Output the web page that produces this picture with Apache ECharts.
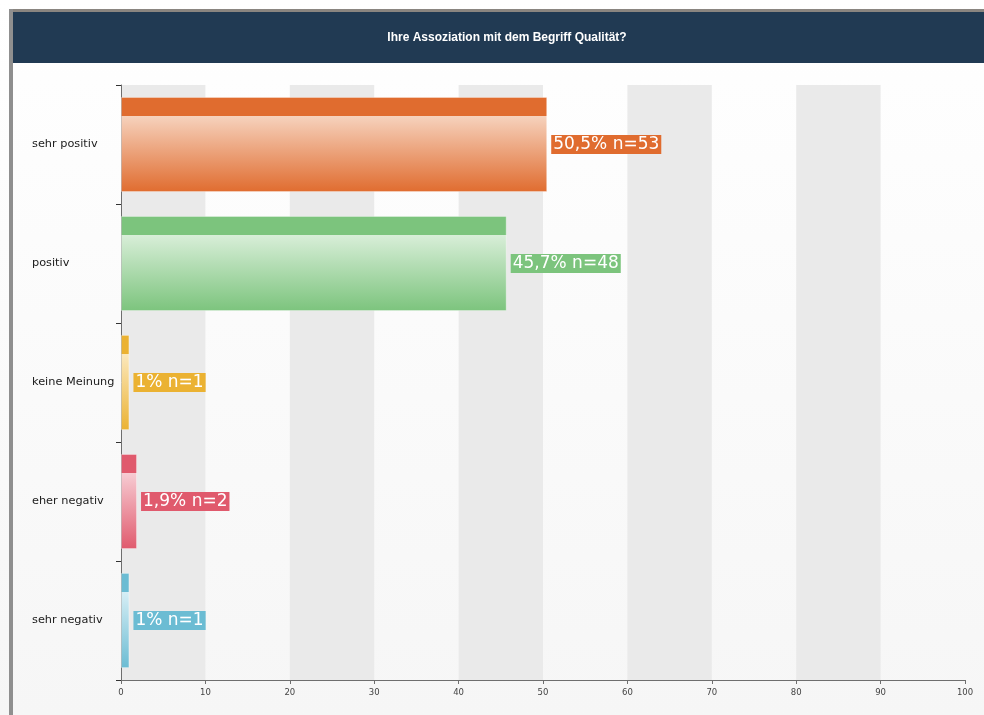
<!DOCTYPE html>
<html>
<head>
<meta charset="utf-8">
<script src="https://cdn.jsdelivr.net/npm/echarts@6/dist/echarts.min.js"></script>
<style>
  html, body { margin: 0; padding: 0; background: #ffffff; }
  #chart { width: 984px; height: 715px; }
</style>
</head>
<body>
<div id="chart"></div>
<script>
// Survey answers, top to bottom
const categories = ['sehr positiv', 'positiv', 'keine Meinung', 'eher negativ', 'sehr negativ'];
const percentValues = [50.5, 45.7, 1, 1.9, 1];
const counts = [53, 48, 1, 2, 1];
const percentLabels = ['50,5%', '45,7%', '1%', '1,9%', '1%'];
const xTicks = [0, 10, 20, 30, 40, 50, 60, 70, 80, 90, 100];

// dark / light tone per answer
const darkColors = ['#e06c2f', '#7cc47d', '#ebb232', '#e05a6d', '#6bbcd3'];
const lightColors = ['#f6d2bd', '#d8eed8', '#fbe8bd', '#f7ccd3', '#d6eef5'];

function barFill(i) {
  return new echarts.graphic.LinearGradient(0, 0, 0, 1, [
    { offset: 0, color: darkColors[i] },
    { offset: 0.2, color: darkColors[i] },
    { offset: 0.201, color: lightColors[i] },
    { offset: 1, color: darkColors[i] }
  ]);
}

const data = percentValues.map((v, i) => ({
  value: v,
  itemStyle: { color: barFill(i), borderColor: 'rgba(255,255,255,0.35)', borderWidth: 1 },
  label: { backgroundColor: darkColors[i] }
}));

const chart = echarts.init(document.getElementById('chart'), null, { renderer: 'canvas' });

chart.setOption({
  animation: false,
  backgroundColor: new echarts.graphic.LinearGradient(0, 0, 0, 1, [
    { offset: 0, color: '#ffffff' },
    { offset: 1, color: '#f6f6f6' }
  ]),
  graphic: [
    // frame edges
    { type: 'rect', shape: { x: 9, y: 9, width: 975, height: 3 }, style: { fill: '#8a8580' }, z: 10 },
    { type: 'rect', shape: { x: 9, y: 9, width: 4, height: 706 }, style: { fill: '#8f8f8f' }, z: 10 },
    // header bar
    { type: 'rect', shape: { x: 13, y: 12, width: 971, height: 51 }, style: { fill: '#213a53' }, z: 10 },
    {
      type: 'text', x: 507, y: 38, z: 11,
      style: {
        text: 'Ihre Assoziation mit dem Begriff Qualität?',
        fill: '#ffffff', font: 'bold 12px "Liberation Sans", Arial, sans-serif',
        align: 'center', verticalAlign: 'middle'
      }
    }
  ],
  grid: { left: 121, right: 19, top: 85, bottom: 35, containLabel: false },
  xAxis: {
    type: 'value', min: 0, max: 100, interval: 10,
    axisLine: { show: true, lineStyle: { color: '#6e6e6e', width: 1 } },
    axisTick: { show: true, length: 4, lineStyle: { color: '#6e6e6e' } },
    axisLabel: {
      margin: 8, fontSize: 8.5, color: '#444',
      fontFamily: '"DejaVu Sans", Verdana, sans-serif',
      formatter: v => xTicks.includes(v) ? String(v) : ''
    },
    splitLine: { show: false },
    splitArea: { show: true, areaStyle: { color: ['#eaeaea', 'rgba(255,255,255,0)'] } }
  },
  yAxis: {
    type: 'category', data: categories, inverse: true,
    axisLine: { show: true, lineStyle: { color: '#6e6e6e', width: 1 } },
    axisTick: { show: true, length: 5, lineStyle: { color: '#333' } },
    axisLabel: {
      align: 'left', margin: 89, fontSize: 11.3, color: '#1a1a1a',
      fontFamily: '"DejaVu Sans", Verdana, sans-serif'
    }
  },
  series: [{
    type: 'bar',
    data: data,
    barCategoryGap: '20%',
    label: {
      show: true, position: 'right', distance: 4,
      color: '#ffffff', fontSize: 17, padding: [2, 2, 0, 2],
      fontFamily: '"DejaVu Sans", Verdana, sans-serif',
      formatter: p => percentLabels[p.dataIndex] + ' n=' + counts[p.dataIndex]
    }
  }]
});
</script>
</body>
</html>
